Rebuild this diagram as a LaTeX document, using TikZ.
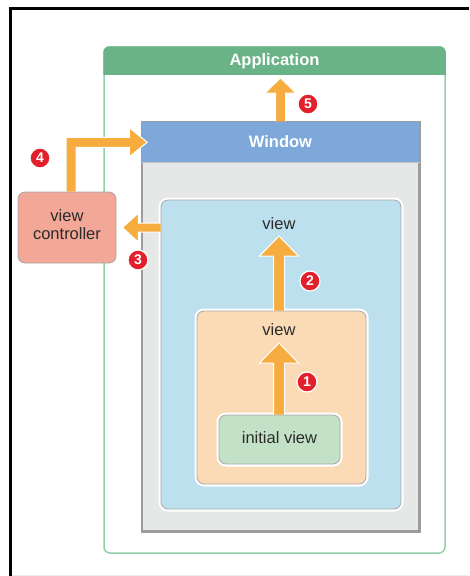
\documentclass[tikz,border=0pt]{standalone}
\usepackage{fontspec}
\setmainfont{Liberation Sans}
\usetikzlibrary{calc}
\definecolor{appgreen}{HTML}{69B387}
\definecolor{appline}{HTML}{93D0AA}
\definecolor{winblue}{HTML}{7EA8D9}
\definecolor{winbody}{HTML}{E6E7E7}
\definecolor{wingray}{HTML}{9C9C9C}
\definecolor{viewblue}{HTML}{BCE0ED}
\definecolor{vieworange}{HTML}{FBDAB6}
\definecolor{initgreen}{HTML}{C3E1C7}
\definecolor{vcsalmon}{HTML}{F2A797}
\definecolor{boxline}{HTML}{A8A8A8}
\definecolor{floworange}{HTML}{F6AC3E}
\definecolor{badgered}{HTML}{E2202B}
\definecolor{textdark}{HTML}{2B2B2B}
\newcommand\flowup[5]{%
  \filldraw[flowarrow] let \p1=(#1), \p2=(#2) in
  (\x1-#3,\y1) -- (\x1-#3,\y2-#5) -- (\x1-#4,\y2-#5) -- (\x1,\y2)
  -- (\x1+#4,\y2-#5) -- (\x1+#3,\y2-#5) -- (\x1+#3,\y1);}
\newcommand\flowleft[5]{%
  \filldraw[flowarrow] let \p1=(#1), \p2=(#2) in
  (\x1,\y1+#3) -- (\x2+#5,\y1+#3) -- (\x2+#5,\y1+#4) -- (\x2,\y1)
  -- (\x2+#5,\y1-#4) -- (\x2+#5,\y1-#3) -- (\x1,\y1-#3);}
\newcommand\flowupright[5]{%
  \filldraw[flowarrow] let \p1=(#1), \p2=(#2) in
  (\x1-#3,\y1) -- (\x1-#3,\y2+#3) -- (\x2-#5,\y2+#3) -- (\x2-#5,\y2+#4) -- (\x2,\y2)
  -- (\x2-#5,\y2-#4) -- (\x2-#5,\y2-#3) -- (\x1+#3,\y2-#3) -- (\x1+#3,\y1);}
\begin{document}
\begin{tikzpicture}[x=1pt,y=-1pt,
  box/.style={rectangle, inner sep=0pt, anchor=center},
  appbox/.style={box, rounded corners=6pt, draw=appline, line width=1.5pt, fill=white},
  winbox/.style={box, draw=wingray, fill=winbody, line width=1.5pt},
  viewbox/.style={box, rounded corners=7pt, draw=boxline, line width=0.8pt,
    preaction={draw=white, line width=5pt}},
  lbl/.style={font=\fontsize{16.5}{19}\selectfont, text=textdark, inner sep=0pt, align=center},
  title/.style={font=\bfseries\fontsize{16.5}{19}\selectfont, text=white, inner sep=0pt},
  badge/.style={circle, fill=badgered, draw=white, line width=1.2pt, minimum size=20pt,
    inner sep=0pt, text=white, font=\bfseries\fontsize{14}{14}\selectfont},
  flowarrow/.style={fill=floworange, draw=white, line width=1pt, line join=miter}]
\useasboundingbox (0,0) rectangle (469,576);
\fill[white] (0,0) rectangle (469,576);
% frame
\draw[black, line width=3pt] (10.5,576) -- (10.5,8) -- (469,8);
\draw[black!8, line width=1pt] (12,575.5) -- (469,575.5);
% application
\node[appbox, minimum width=341pt, minimum height=506pt] (app) at (274.5,300) {};
\begin{scope}
  \clip (100,40) rectangle (450,74);
  \fill[appgreen, rounded corners=6pt] (app.north west) rectangle (app.south east);
\end{scope}
\node[title] (apptitle) at (274.5,61) {Application};
% window
\node[winbox, minimum width=277pt, minimum height=409pt] (win) at (280.5,326.5) {};
\fill[winblue] (win.north west) rectangle ($(win.north east)+(0,41)$);
\draw[wingray, line width=1.5pt] (win.north west) rectangle (win.south east);
\draw[wingray!60, line width=0.6pt] ($(win.north west)+(0,41)$) -- ($(win.north east)+(0,41)$);
\node[title] (wintitle) at (280.5,142) {Window};
% views
\node[viewbox, fill=viewblue, minimum width=240pt, minimum height=309pt] (blue) at (281,354.5) {};
\node[lbl] (v1lbl) at (279,224) {view};
\node[viewbox, fill=vieworange, minimum width=169pt, minimum height=173pt] (orange) at (281.5,397.5) {};
\node[lbl] (v2lbl) at (279,330) {view};
\node[viewbox, fill=initgreen, minimum width=121pt, minimum height=49pt] (init) at (279.5,439.5) {};
\node[lbl] (initlbl) at (279.5,438) {initial view};
% view controller
\node[box, rounded corners=7pt, draw=boxline, line width=0.8pt, fill=vcsalmon,
  minimum width=98pt, minimum height=71pt] (vc) at (67,227.5) {};
\node[lbl] (vclbl) at (67,224.5) {view\\[-1pt]controller};
% arrows
\coordinate (t1) at ($(v2lbl.center)+(0,13)$);
\coordinate (t2) at ($(v1lbl.center)+(0,12)$);
\coordinate (t5) at ($(apptitle.center)+(0,17)$);
\coordinate (s3) at ($(blue.north west)+(0,28)$);
\coordinate (t3) at ($(vc.east)+(6,0)$);
\coordinate (s4) at ($(vc.north)+(4,0)$);
\coordinate (t4) at ($(win.north west)+(6,21)$);
\flowup{init.north -| v2lbl}{t1}{5.5pt}{19.5pt}{20pt}
\flowup{orange.north -| v2lbl}{t2}{5.5pt}{19.5pt}{20pt}
\flowup{win.north}{t5}{5pt}{15.5pt}{15pt}
\flowleft{s3}{t3}{4.5pt}{14.5pt}{16pt}
\flowupright{s4}{t4}{5pt}{14.5pt}{18pt}
% badges
\node[badge] (b1) at (307,382) {1};
\node[badge] (b2) at (310,281) {2};
\node[badge] (b3) at (138,260) {3};
\node[badge] (b4) at (40,158) {4};
\node[badge] (b5) at (308,104) {5};
\end{tikzpicture}
\end{document}
